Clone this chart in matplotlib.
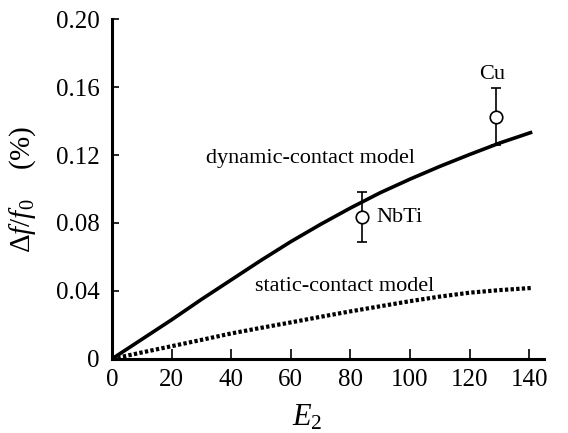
import matplotlib
matplotlib.use("Agg")
import matplotlib.pyplot as plt

# model curves
e2_model = [0, 10, 20, 30, 40, 50, 60, 70, 80, 90, 100, 110, 120, 130, 141]
dynamic = [0, 0.0115, 0.023, 0.035, 0.0465, 0.058, 0.069, 0.0792, 0.0888, 0.0978,
           0.1058, 0.1133, 0.1203, 0.127, 0.1335]
static = [0, 0.0038, 0.0075, 0.0112, 0.015, 0.0183, 0.0215, 0.0248, 0.028, 0.031,
          0.034, 0.0367, 0.039, 0.0405, 0.0418]

# measured points
samples = ["NbTi", "Cu"]
e2_meas = [84, 129]
df_meas = [0.0835, 0.1424]
df_err = [0.0147, 0.0168]

yticks = [0, 0.04, 0.08, 0.12, 0.16, 0.20]
ytick_labels = ["0", "0.04", "0.08", "0.12", "0.16", "0.20"]
xticks = [0, 20, 40, 60, 80, 100, 120, 140]

plt.rcParams["font.family"] = ["Liberation Serif", "DejaVu Serif"]
plt.rcParams["mathtext.fontset"] = "custom"
plt.rcParams["mathtext.rm"] = "Liberation Serif"
plt.rcParams["mathtext.it"] = "Liberation Serif:italic"

fig = plt.figure(figsize=(5.68, 4.33), dpi=100)
ax = fig.add_axes([0.197, 0.171, 0.761, 0.785])

ax.plot(e2_model, dynamic, color="black", linewidth=2.6, solid_capstyle="butt")
ax.plot(e2_model, static, color="black", linewidth=3.0,
        linestyle=(0, (0.8, 0.55)), dash_capstyle="butt")

ax.errorbar(e2_meas, df_meas, yerr=df_err, fmt="o", color="black",
            markerfacecolor="white", markeredgecolor="black", markersize=9,
            markeredgewidth=1.2, elinewidth=1.2, capsize=3.5, capthick=1.2,
            zorder=5)

ax.text(31.5, 0.118, "dynamic-contact model", fontsize=16, va="center", ha="left")
ax.text(48, 0.0424, "static-contact model", fontsize=16, va="center", ha="left")
ax.text(88.7, 0.0835, samples[0], fontsize=16, va="center", ha="left")
ax.text(127.6, 0.1676, samples[1], fontsize=16, va="center", ha="center")

ax.set_xlim(0, 145)
ax.set_ylim(0, 0.20)
ax.set_xticks(xticks)
ax.set_yticks(yticks)
ax.set_yticklabels(ytick_labels)

for side in ("top", "right"):
    ax.spines[side].set_visible(False)
for side in ("left", "bottom"):
    ax.spines[side].set_linewidth(2.2)

ax.tick_params(axis="x", direction="in", length=7, width=1.2, pad=7, labelsize=18)
ax.tick_params(axis="y", direction="in", length=5, width=1.2, pad=9, labelsize=18)

ax.set_xlabel(r"$E_2$", fontsize=22)
ax.xaxis.set_label_coords(0.451, -0.13)
ax.set_ylabel("Δ" + r"$f/f_0$    (%)", fontsize=21)
ax.yaxis.set_label_coords(-0.17, 0.5)

fig.savefig("out.png", dpi=100)
